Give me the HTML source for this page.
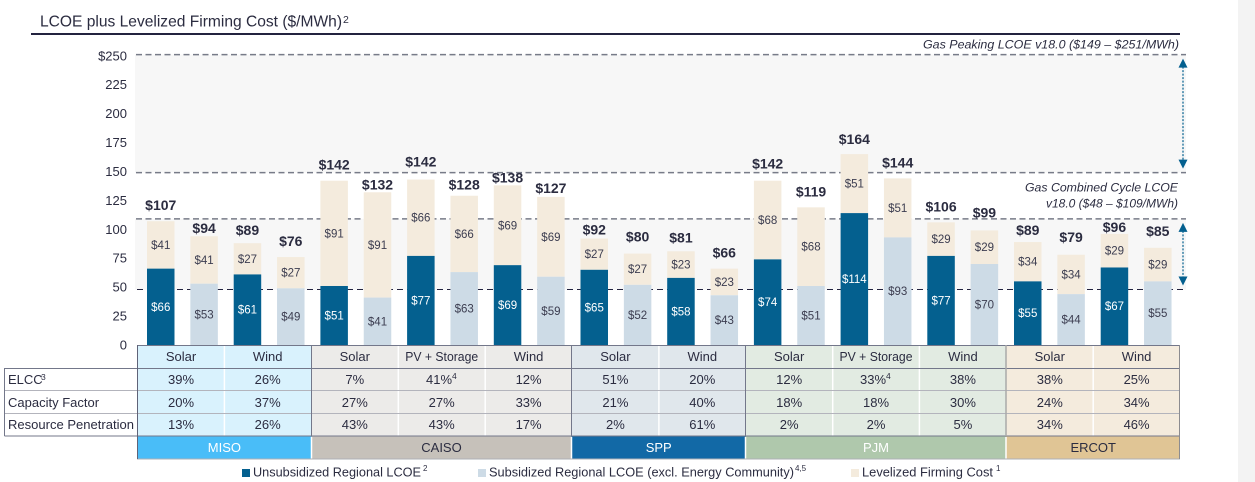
<!DOCTYPE html>
<html lang="en">
<head>
<meta charset="utf-8">
<title>LCOE plus Levelized Firming Cost</title>
<style>
html,body{margin:0;padding:0;background:#fff;width:1255px;height:482px;overflow:hidden}
svg{display:block;font-family:"Liberation Sans",sans-serif}
.c{font-size:13px;fill:#2b2c40;text-anchor:middle}
.l{font-size:13px;fill:#2b2c40}
.lg{font-size:12.5px;fill:#2b2c40}
.n{font-size:11.5px;font-style:italic;fill:#2b2c40;text-anchor:end}
.w{fill:#fff}
</style>
</head>
<body>
<svg id="chart" xmlns="http://www.w3.org/2000/svg" width="1255" height="482" viewBox="0 0 1255 482">
  <rect x="1238" y="0" width="17" height="482" fill="#f3f3f3"/>
  <text x="40" y="26.5" font-size="16" fill="#2b2c40" textLength="302" lengthAdjust="spacingAndGlyphs">LCOE plus Levelized Firming Cost ($/MWh)</text>
  <text x="343" y="23" font-size="10.5" fill="#2b2c40">2</text>
  <rect x="31" y="33" width="1149" height="2" fill="#23233f"/>

  <g id="plot"></g>

  <text class="n" x="1179" y="48.5" textLength="256" lengthAdjust="spacingAndGlyphs">Gas Peaking LCOE v18.0 ($149 – $251/MWh)</text>
  <text class="n" x="1178" y="191.5" textLength="153" lengthAdjust="spacingAndGlyphs">Gas Combined Cycle LCOE</text>
  <text class="n" x="1178" y="207.5" textLength="132" lengthAdjust="spacingAndGlyphs">v18.0 ($48 – $109/MWh)</text>

  <g>
    <rect x="137.5" y="345" width="174" height="91" fill="#d9f2fd"/>
    <rect x="311.5" y="345" width="260" height="91" fill="#ecebe9"/>
    <rect x="571.5" y="345" width="174" height="91" fill="#e0e7ec"/>
    <rect x="745.5" y="345" width="260.5" height="91" fill="#e2ebe2"/>
    <rect x="1006" y="345" width="174" height="91" fill="#f4ebdd"/>
    <rect x="137.5" y="436" width="174" height="23" fill="#49bdf8"/>
    <rect x="311.5" y="436" width="260" height="23" fill="#c6c1ba"/>
    <rect x="571.5" y="436" width="174" height="23" fill="#1269a6"/>
    <rect x="745.5" y="436" width="260.5" height="23" fill="#afc8ac"/>
    <rect x="1006" y="436" width="174" height="23" fill="#e0c595"/>

    <g stroke="#fff" stroke-width="1.5">
      <line x1="224.4" x2="224.4" y1="346" y2="436"/>
      <line x1="398.3" x2="398.3" y1="346" y2="436"/>
      <line x1="485.2" x2="485.2" y1="346" y2="436"/>
      <line x1="658.9" x2="658.9" y1="346" y2="436"/>
      <line x1="832.7" x2="832.7" y1="346" y2="436"/>
      <line x1="919.4" x2="919.4" y1="346" y2="436"/>
      <line x1="1093.2" x2="1093.2" y1="346" y2="436"/>
      <line x1="311.5" x2="311.5" y1="437" y2="459"/>
      <line x1="571.5" x2="571.5" y1="437" y2="459"/>
      <line x1="745.5" x2="745.5" y1="437" y2="459"/>
      <line x1="1006" x2="1006" y1="437" y2="459"/>
    </g>

    <g fill="none">
      <line x1="137" x2="1180" y1="345.5" y2="345.5" stroke="#73778a" stroke-width="1"/>
      <line x1="4.5" x2="1180" y1="368.5" y2="368.5" stroke="#73778a" stroke-width="1"/>
      <line x1="4.5" x2="1180" y1="390.5" y2="390.5" stroke="#b3b4bc" stroke-width="1"/>
      <line x1="4.5" x2="1180" y1="413.5" y2="413.5" stroke="#b3b4bc" stroke-width="1"/>
      <line x1="4.5" x2="1180" y1="436" y2="436" stroke="#73778a" stroke-width="1"/>
      <line x1="137" x2="1180" y1="459" y2="459" stroke="#aeb0b6" stroke-width="1"/>
      <line x1="4.5" x2="4.5" y1="368" y2="436" stroke="#73778a" stroke-width="1"/>
      <line x1="137.5" x2="137.5" y1="345" y2="459" stroke="#5f6378" stroke-width="1"/>
      <line x1="311.5" x2="311.5" y1="345" y2="436" stroke="#73778a" stroke-width="1"/>
      <line x1="571.5" x2="571.5" y1="345" y2="436" stroke="#73778a" stroke-width="1"/>
      <line x1="745.5" x2="745.5" y1="345" y2="436" stroke="#73778a" stroke-width="1"/>
      <line x1="1006" x2="1006" y1="345" y2="436" stroke="#a9a9a9" stroke-width="1.5"/>
      <line x1="1179.5" x2="1179.5" y1="345" y2="459" stroke="#8c8c90" stroke-width="1"/>
    </g>

    <text class="c" x="181" y="361">Solar</text>
    <text class="c" x="267.7" y="361">Wind</text>
    <text class="c" x="354.8" y="361">Solar</text>
    <text class="c" x="441.7" y="361" textLength="73" lengthAdjust="spacingAndGlyphs">PV + Storage</text>
    <text class="c" x="528.6" y="361">Wind</text>
    <text class="c" x="615.4" y="361">Solar</text>
    <text class="c" x="702.3" y="361">Wind</text>
    <text class="c" x="789.2" y="361">Solar</text>
    <text class="c" x="876" y="361" textLength="73" lengthAdjust="spacingAndGlyphs">PV + Storage</text>
    <text class="c" x="962.9" y="361">Wind</text>
    <text class="c" x="1049.8" y="361">Solar</text>
    <text class="c" x="1136.6" y="361">Wind</text>

    <text class="l" x="8" y="384">ELCC</text>
    <text x="41" y="380" font-size="8.5" fill="#2b2c40">3</text>
    <text class="l" x="8" y="407">Capacity Factor</text>
    <text class="l" x="8" y="429" textLength="126" lengthAdjust="spacingAndGlyphs">Resource Penetration</text>

    <text class="c" x="181" y="384">39%</text>
    <text class="c" x="267.7" y="384">26%</text>
    <text class="c" x="354.8" y="384">7%</text>
    <text class="c" x="439" y="384">41%</text>
    <text x="452" y="379" font-size="8.5" fill="#2b2c40">4</text>
    <text class="c" x="528.6" y="384">12%</text>
    <text class="c" x="615.4" y="384">51%</text>
    <text class="c" x="702.3" y="384">20%</text>
    <text class="c" x="789.2" y="384">12%</text>
    <text class="c" x="873" y="384">33%</text>
    <text x="886" y="379" font-size="8.5" fill="#2b2c40">4</text>
    <text class="c" x="962.9" y="384">38%</text>
    <text class="c" x="1049.8" y="384">38%</text>
    <text class="c" x="1136.6" y="384">25%</text>

    <text class="c" x="181" y="407">20%</text>
    <text class="c" x="267.7" y="407">37%</text>
    <text class="c" x="354.8" y="407">27%</text>
    <text class="c" x="441.7" y="407">27%</text>
    <text class="c" x="528.6" y="407">33%</text>
    <text class="c" x="615.4" y="407">21%</text>
    <text class="c" x="702.3" y="407">40%</text>
    <text class="c" x="789.2" y="407">18%</text>
    <text class="c" x="876" y="407">18%</text>
    <text class="c" x="962.9" y="407">30%</text>
    <text class="c" x="1049.8" y="407">24%</text>
    <text class="c" x="1136.6" y="407">34%</text>

    <text class="c" x="181" y="429">13%</text>
    <text class="c" x="267.7" y="429">26%</text>
    <text class="c" x="354.8" y="429">43%</text>
    <text class="c" x="441.7" y="429">43%</text>
    <text class="c" x="528.6" y="429">17%</text>
    <text class="c" x="615.4" y="429">2%</text>
    <text class="c" x="702.3" y="429">61%</text>
    <text class="c" x="789.2" y="429">2%</text>
    <text class="c" x="876" y="429">2%</text>
    <text class="c" x="962.9" y="429">5%</text>
    <text class="c" x="1049.8" y="429">34%</text>
    <text class="c" x="1136.6" y="429">46%</text>

    <text class="c w" x="224.4" y="452">MISO</text>
    <text class="c" x="441.5" y="452">CAISO</text>
    <text class="c w" x="658.7" y="452">SPP</text>
    <text class="c w" x="876" y="452">PJM</text>
    <text class="c" x="1093.2" y="452">ERCOT</text>
  </g>

  <g>
    <rect x="242" y="469" width="8" height="8" fill="#04608f"/>
    <text class="lg" x="253" y="476.5" textLength="168" lengthAdjust="spacingAndGlyphs">Unsubsidized Regional LCOE</text>
    <text x="423" y="471" font-size="8" fill="#2b2c40">2</text>
    <rect x="478" y="469" width="8" height="8" fill="#cddbe6"/>
    <text class="lg" x="489" y="476.5" textLength="305" lengthAdjust="spacingAndGlyphs">Subsidized Regional LCOE (excl. Energy Community)</text>
    <text x="795" y="471" font-size="8" fill="#2b2c40">4,5</text>
    <rect x="851" y="469" width="8" height="8" fill="#f4ebdd"/>
    <text class="lg" x="862" y="476.5" textLength="131" lengthAdjust="spacingAndGlyphs">Levelized Firming Cost</text>
    <text x="996" y="471" font-size="8" fill="#2b2c40">1</text>
  </g>
</svg>

<script>
// ---- chart data ----
const barNames = ['miso-solar-unsubsidized','miso-solar-subsidized','miso-wind-unsubsidized','miso-wind-subsidized','caiso-solar-unsubsidized','caiso-solar-subsidized','caiso-pv-storage-unsubsidized','caiso-pv-storage-subsidized','caiso-wind-unsubsidized','caiso-wind-subsidized','spp-solar-unsubsidized','spp-solar-subsidized','spp-wind-unsubsidized','spp-wind-subsidized','pjm-solar-unsubsidized','pjm-solar-subsidized','pjm-pv-storage-unsubsidized','pjm-pv-storage-subsidized','pjm-wind-unsubsidized','pjm-wind-subsidized','ercot-solar-unsubsidized','ercot-solar-subsidized','ercot-wind-unsubsidized','ercot-wind-subsidized'];
const lcoeValues = [66,53,61,49,51,41,77,63,69,59,65,52,58,43,74,51,114,93,77,70,55,44,67,55];
const firmingValues = [41,41,27,27,91,91,66,66,69,69,27,27,23,23,68,68,51,51,29,29,34,34,29,29];
const totalValues = [107,94,89,76,142,132,142,128,138,127,92,80,81,66,142,119,164,144,106,99,89,79,96,85];
const axisTicks = [0,25,50,75,100,125,150,175,200,225,250];
const gasPeakingRange = [149,251];
const gasCombinedRange = [48,109];

// ---- layout ----
const baseY = 345, unitPx = 1.157, firstBarX = 147, barPitch = 43.35, barWidth = 27.5;
const totalLabelLift = [16,8,13,16,16,8,18,11,8,9,9,17,14,16,17,16,15,16,16,18,12,18,7,17];
const y = v => baseY - v * unitPx;
const x = i => firstBarX + i * barPitch;
const plot = document.getElementById('plot');
const NS = 'http://www.w3.org/2000/svg';
function make(tag, props, text) {
  const el = document.createElementNS(NS, tag);
  for (const k in props) el.setAttribute(k, props[k]);
  if (text !== undefined) el.textContent = text;
  plot.appendChild(el);
  return el;
}
const bandLeft = 135, bandRight = 1186;
let el;

// reference bands
[gasPeakingRange, gasCombinedRange].forEach(function (r, idx) {
  el = make('rect', {x: bandLeft, y: y(r[1]), width: bandRight - bandLeft, height: y(r[0]) - y(r[1]), fill: '#f7f7f7'});
  
  
});

// reference lines
[gasPeakingRange[1], gasPeakingRange[0], gasCombinedRange[1]].forEach(function (v) {
  el = make('line', {x1: bandLeft + 1, x2: bandRight, y1: y(v), y2: y(v), stroke: '#777b88', 'stroke-width': 1.5, 'stroke-dasharray': '6 3.5'});
  
  
});
el = make('line', {x1: bandLeft + 2, x2: bandRight, y1: y(gasCombinedRange[0]), y2: y(gasCombinedRange[0]), stroke: '#23233f', 'stroke-width': 1, 'stroke-dasharray': '6 4'});



// axis tick labels
axisTicks.forEach(function (t, i) {
  el = make('text', {x: 127, y: y(t) + 4.5, 'text-anchor': 'end', 'font-size': 13, fill: '#2b2c40'}, i === axisTicks.length - 1 ? '$' + t : String(t));
  
  
});

// bars
barNames.forEach(function (name, i) {
  const lcoe = lcoeValues[i], firm = firmingValues[i], unsub = i % 2 === 0;
  const cx = x(i) + barWidth / 2;
  const firmTop = y(lcoe + firm);

  el = make('rect', {x: x(i), y: firmTop, width: barWidth, height: y(lcoe) - firmTop, fill: '#f4ebdd'});
  
  

  el = make('rect', {x: x(i), y: y(lcoe), width: barWidth, height: baseY - y(lcoe), fill: unsub ? '#04608f' : '#cddbe6'});
  
  

  el = make('text', {x: cx, y: (firmTop + y(lcoe)) / 2 + 4, 'text-anchor': 'middle', 'font-size': 11.5, fill: '#3c3d50'}, '$' + firm);
  
  

  el = make('text', {x: cx, y: (y(lcoe) + baseY) / 2 + 4, 'text-anchor': 'middle', 'font-size': 11.5, fill: unsub ? '#ffffff' : '#3c3d50'}, '$' + lcoe);
  
  

  el = make('text', {x: cx, y: firmTop - totalLabelLift[i] + 5, 'text-anchor': 'middle', 'font-size': 14, 'font-weight': 'bold', fill: '#2b2c40'}, '$' + totalValues[i]);
  
  
});

// range arrows
const arrowX = 1183;
[gasPeakingRange, gasCombinedRange].forEach(function (r, idx) {
  const top = y(r[1]) + 4, bottom = y(r[0]) - 4;
  el = make('line', {x1: arrowX, x2: arrowX, y1: top + 8, y2: bottom - 8, stroke: '#04608f', 'stroke-width': 1.2, 'stroke-dasharray': '2 1.5'});
  
  
  el = make('polygon', {points: arrowX + ',' + top + ' ' + (arrowX - 4.5) + ',' + (top + 9) + ' ' + (arrowX + 4.5) + ',' + (top + 9), fill: '#04608f'});
  
  
  el = make('polygon', {points: arrowX + ',' + bottom + ' ' + (arrowX - 4.5) + ',' + (bottom - 9) + ' ' + (arrowX + 4.5) + ',' + (bottom - 9), fill: '#04608f'});
  
  
});
</script>
</body>
</html>
